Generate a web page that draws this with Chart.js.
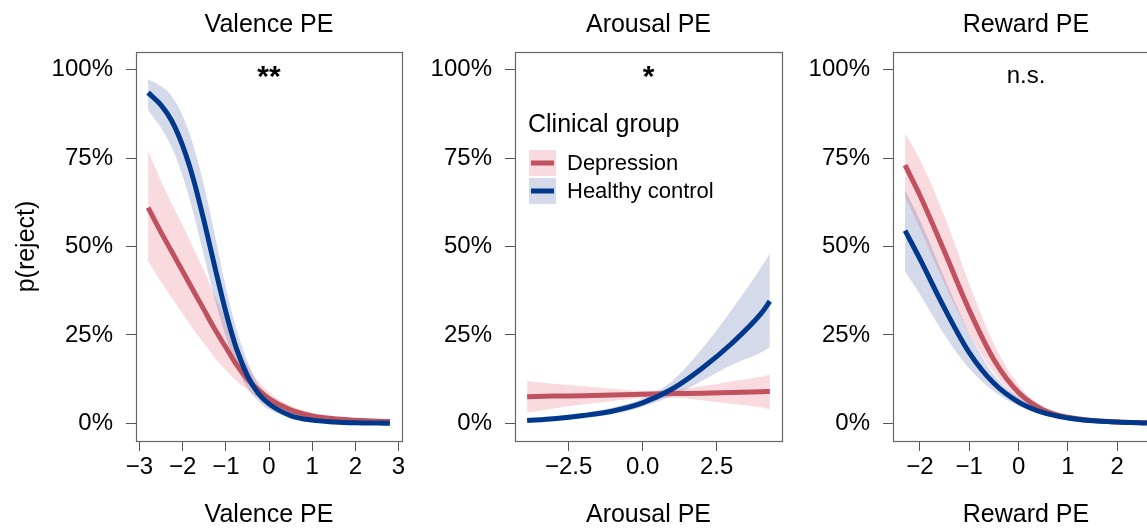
<!DOCTYPE html>
<html>
<head>
<meta charset="utf-8">
<script src="https://cdn.jsdelivr.net/npm/chart.js@4.4.1/dist/chart.umd.min.js"></script>
<style>
  html, body { margin: 0; padding: 0; background: #fff; overflow: hidden; }
  body { width: 1147px; height: 530px; position: relative; }
  canvas { position: absolute; top: 0; }
</style>
</head>
<body>
<canvas id="valenceChart" width="412" height="530" style="left:0px"></canvas>
<canvas id="arousalChart" width="380" height="530" style="left:412px"></canvas>
<canvas id="rewardChart" width="377" height="530" style="left:792px"></canvas>
<script>
// ---- data (p(reject) in %) ----
const pctTicks = [0, 25, 50, 75, 100];

// Valence PE
const valenceX = [-2.8, -2.5, -2.25, -2, -1.75, -1.5, -1.25, -1, -0.75, -0.5, -0.25, 0, 0.5, 1, 1.5, 2, 2.5, 2.8];
const valenceDep = [61, 54, 48.5, 43, 37.5, 32, 26.5, 21.5, 16.5, 12.5, 9.5, 7, 3.8, 2.1, 1.3, 0.9, 0.6, 0.5];
const valenceDepHi = [77, 68.5, 62, 56, 49.5, 43, 36, 29.5, 22.5, 16.5, 12, 8.8, 5, 3, 2, 1.4, 1.1, 1.0];
const valenceDepLo = [46, 40, 35.5, 31, 26.5, 22.5, 18.5, 15, 12, 9.5, 7.2, 5.4, 2.7, 1.4, 0.8, 0.45, 0.3, 0.2];
const valenceHc = [93.5, 90, 85.5, 78.5, 69, 57, 44, 31.5, 21, 13.5, 8.5, 5.5, 2.2, 0.9, 0.4, 0.15, 0.06, 0.03];
const valenceHcHi = [97.3, 95.3, 92.5, 87, 78.5, 67, 53, 38.5, 26.5, 17.5, 11, 7.3, 3.0, 1.3, 0.6, 0.25, 0.1, 0.06];
const valenceHcLo = [88.5, 83.5, 78, 70, 59.5, 47, 35, 24.5, 16, 10, 6.3, 3.9, 1.5, 0.5, 0.2, 0.07, 0.03, 0.01];
const valenceTicks = [-3, -2, -1, 0, 1, 2, 3];

// Arousal PE
const arousalX = [-3.9, -3, -2, -1, 0, 1, 2, 3, 4, 4.3];
const arousalDep = [7.5, 7.7, 7.8, 8.0, 8.2, 8.4, 8.5, 8.7, 8.9, 9.0];
const arousalDepHi = [12, 11.2, 10.5, 9.8, 9.2, 9.5, 10.5, 11.8, 13.2, 13.7];
const arousalDepLo = [3, 4.2, 5.3, 6.3, 7.1, 7.2, 6.5, 5.5, 4.5, 4.0];
const arousalHc = [0.8, 1.3, 2.2, 3.5, 5.8, 9.7, 15.5, 22.5, 31, 34.5];
const arousalHcHi = [1.5, 2.0, 3.0, 4.5, 7, 12, 21, 32, 44, 48];
const arousalHcLo = [0.4, 0.7, 1.4, 2.6, 4.7, 7.8, 12, 16.5, 20, 21.6];
const arousalTicks = [-2.5, 0, 2.5];

// Reward PE
const rewardX = [-2.3, -2, -1.5, -1, -0.5, 0, 0.5, 1, 1.5, 2, 2.6];
const rewardDep = [73, 64.5, 48.5, 32, 18, 8.7, 3.8, 1.7, 0.8, 0.4, 0.15];
const rewardDepHi = [82, 74.5, 58.5, 39.5, 22.5, 10.8, 4.8, 2.2, 1.1, 0.6, 0.25];
const rewardDepLo = [64, 55, 39.5, 25.5, 14.3, 6.9, 3.0, 1.3, 0.55, 0.25, 0.08];
const rewardHc = [54.5, 46.5, 32.5, 20, 11.3, 6, 3, 1.5, 0.7, 0.35, 0.12];
const rewardHcHi = [66, 57.5, 41, 25.5, 13.8, 7.3, 3.7, 1.9, 0.95, 0.5, 0.2];
const rewardHcLo = [43, 36.5, 25, 15.5, 9, 4.9, 2.4, 1.15, 0.5, 0.22, 0.07];
const rewardTicks = [-2, -1, 0, 1, 2];

const RED = 'rgb(192, 82, 96)';
const BLUE = 'rgb(0, 56, 140)';
const RED_FILL = 'rgba(232, 140, 155, 0.32)';
const BLUE_FILL = 'rgba(40, 70, 150, 0.2)';
const FONT = "'Liberation Sans', Arial, Helvetica, sans-serif";

Chart.defaults.font.family = FONT;
Chart.defaults.color = '#000';

function toPoints(xs, ys) {
    return xs.map((x, i) => ({ x: x, y: ys[i] }));
}

function minusSign(s) {
    return s.replace('-', '\u2212');
}

// box around the plot region
const plotBox = {
    id: 'plotBox',
    afterDraw(chart) {
        const a = chart.chartArea;
        const ctx = chart.ctx;
        ctx.save();
        ctx.strokeStyle = '#666';
        ctx.lineWidth = 1.2;
        ctx.strokeRect(a.left + 0.5, a.top + 0.5, a.right - a.left, a.bottom - a.top);
        ctx.restore();
    }
};

// significance text at the top of each panel
const sigLabel = {
    id: 'sigLabel',
    afterDatasetsDraw(chart, args, opts) {
        const a = chart.chartArea;
        const ctx = chart.ctx;
        ctx.save();
        ctx.font = opts.font;
        ctx.fillStyle = '#000';
        ctx.textAlign = 'center';
        ctx.textBaseline = 'middle';
        ctx.fillText(opts.text, (a.left + a.right) / 2, chart.scales.y.getPixelForValue(opts.y));
        ctx.restore();
    }
};

// legend drawn inside the arousal panel
const groupLegend = {
    id: 'groupLegend',
    afterDatasetsDraw(chart) {
        const a = chart.chartArea;
        const ctx = chart.ctx;
        const x0 = a.left + 14;
        ctx.save();
        ctx.fillStyle = '#000';
        ctx.textBaseline = 'middle';
        ctx.textAlign = 'left';
        ctx.font = '25px ' + FONT;
        ctx.fillText('Clinical group', x0 - 1, 125);
        const rows = [
            { label: 'Depression', line: RED, fill: RED_FILL, y: 163 },
            { label: 'Healthy control', line: BLUE, fill: BLUE_FILL, y: 191 }
        ];
        ctx.font = '22px ' + FONT;
        rows.forEach(r => {
            ctx.fillStyle = r.fill;
            ctx.fillRect(x0, r.y - 13, 27, 26);
            ctx.strokeStyle = r.line;
            ctx.lineWidth = 5;
            ctx.beginPath();
            ctx.moveTo(x0 + 2, r.y);
            ctx.lineTo(x0 + 25, r.y);
            ctx.stroke();
            ctx.fillStyle = '#000';
            ctx.fillText(r.label, x0 + 38, r.y + 1);
        });
        ctx.restore();
    }
};

function drawPanel(canvasId, cfg) {
    const ctx = document.getElementById(canvasId).getContext('2d');
    const lineOpts = { borderWidth: 5, cubicInterpolationMode: 'monotone', fill: false, borderCapStyle: 'butt' };
    const bandOpts = { borderWidth: 0, borderColor: 'rgba(0,0,0,0)', cubicInterpolationMode: 'monotone' };
    return new Chart(ctx, {
        type: 'line',
        data: {
            datasets: [
                Object.assign({ label: 'Depression', data: toPoints(cfg.xs, cfg.dep), borderColor: RED, order: 1 }, lineOpts),
                Object.assign({ label: 'Healthy control', data: toPoints(cfg.xs, cfg.hc), borderColor: BLUE, order: 0 }, lineOpts),
                Object.assign({ label: 'dep upper', data: toPoints(cfg.xs, cfg.depHi), fill: '+1', backgroundColor: RED_FILL, order: 3 }, bandOpts),
                Object.assign({ label: 'dep lower', data: toPoints(cfg.xs, cfg.depLo), fill: false, order: 3 }, bandOpts),
                Object.assign({ label: 'hc upper', data: toPoints(cfg.xs, cfg.hcHi), fill: '+1', backgroundColor: BLUE_FILL, order: 2 }, bandOpts),
                Object.assign({ label: 'hc lower', data: toPoints(cfg.xs, cfg.hcLo), fill: false, order: 2 }, bandOpts)
            ]
        },
        options: {
            responsive: false,
            animation: false,
            events: [],
            layout: { padding: { left: 0, right: 10, top: 0, bottom: 0 } },
            elements: { point: { radius: 0 } },
            plugins: {
                legend: { display: false },
                tooltip: { enabled: false },
                title: {
                    display: true,
                    text: cfg.title,
                    fullSize: false,
                    font: { size: 25, weight: 'normal' },
                    color: '#000',
                    padding: { top: 10, bottom: 12 }
                },
                sigLabel: cfg.sig
            },
            scales: {
                x: {
                    type: 'linear',
                    min: cfg.xMin,
                    max: cfg.xMax,
                    afterBuildTicks: s => { s.ticks = cfg.xTicks.map(v => ({ value: v })); },
                    afterFit: s => { s.height = 89; },
                    ticks: {
                        autoSkip: false,
                        maxRotation: 0,
                        padding: 2,
                        font: { size: 24 },
                        color: '#000',
                        callback: v => minusSign(cfg.fmt(v))
                    },
                    grid: { drawOnChartArea: false, drawTicks: true, tickLength: 10, color: '#555' },
                    border: { display: false },
                    title: {
                        display: true,
                        text: cfg.title,
                        font: { size: 25 },
                        color: '#000',
                        padding: { top: 0, bottom: 0 }
                    }
                },
                y: {
                    type: 'linear',
                    min: -5,
                    max: 105,
                    afterBuildTicks: s => { s.ticks = pctTicks.map(v => ({ value: v })); },
                    afterFit: s => { s.width = cfg.yWidth; },
                    ticks: {
                        padding: 13,
                        font: { size: 24 },
                        color: '#000',
                        callback: v => v + '%'
                    },
                    grid: { drawOnChartArea: false, drawTicks: true, tickLength: 10, color: '#555' },
                    border: { display: false },
                    title: {
                        display: cfg.yTitle,
                        text: 'p(reject)',
                        font: { size: 25 },
                        color: '#000',
                        padding: { top: 12, bottom: 0 }
                    }
                }
            }
        },
        plugins: cfg.extraPlugins
    });
}

document.addEventListener('DOMContentLoaded', function () {
    drawPanel('valenceChart', {
        title: 'Valence PE',
        xs: valenceX, dep: valenceDep, depHi: valenceDepHi, depLo: valenceDepLo,
        hc: valenceHc, hcHi: valenceHcHi, hcLo: valenceHcLo,
        xMin: -3.08, xMax: 3.08, xTicks: valenceTicks, fmt: v => String(v),
        yWidth: 136, yTitle: true,
        sig: { text: '**', y: 97.7, font: 'bold 30px ' + FONT },
        extraPlugins: [plotBox, sigLabel]
    });
    drawPanel('arousalChart', {
        title: 'Arousal PE',
        xs: arousalX, dep: arousalDep, depHi: arousalDepHi, depLo: arousalDepLo,
        hc: arousalHc, hcHi: arousalHcHi, hcLo: arousalHcLo,
        xMin: -4.31, xMax: 4.71, xTicks: arousalTicks, fmt: v => v.toFixed(1),
        yWidth: 103, yTitle: false,
        sig: { text: '*', y: 97.7, font: 'bold 30px ' + FONT },
        extraPlugins: [plotBox, sigLabel, groupLegend]
    });
    drawPanel('rewardChart', {
        title: 'Reward PE',
        xs: rewardX, dep: rewardDep, depHi: rewardDepHi, depLo: rewardDepLo,
        hc: rewardHc, hcHi: rewardHcHi, hcLo: rewardHcLo,
        xMin: -2.545, xMax: 2.845, xTicks: rewardTicks, fmt: v => String(v),
        yWidth: 101, yTitle: false,
        sig: { text: 'n.s.', y: 98, font: '24px ' + FONT },
        extraPlugins: [plotBox, sigLabel]
    });
});
</script>
</body>
</html>
